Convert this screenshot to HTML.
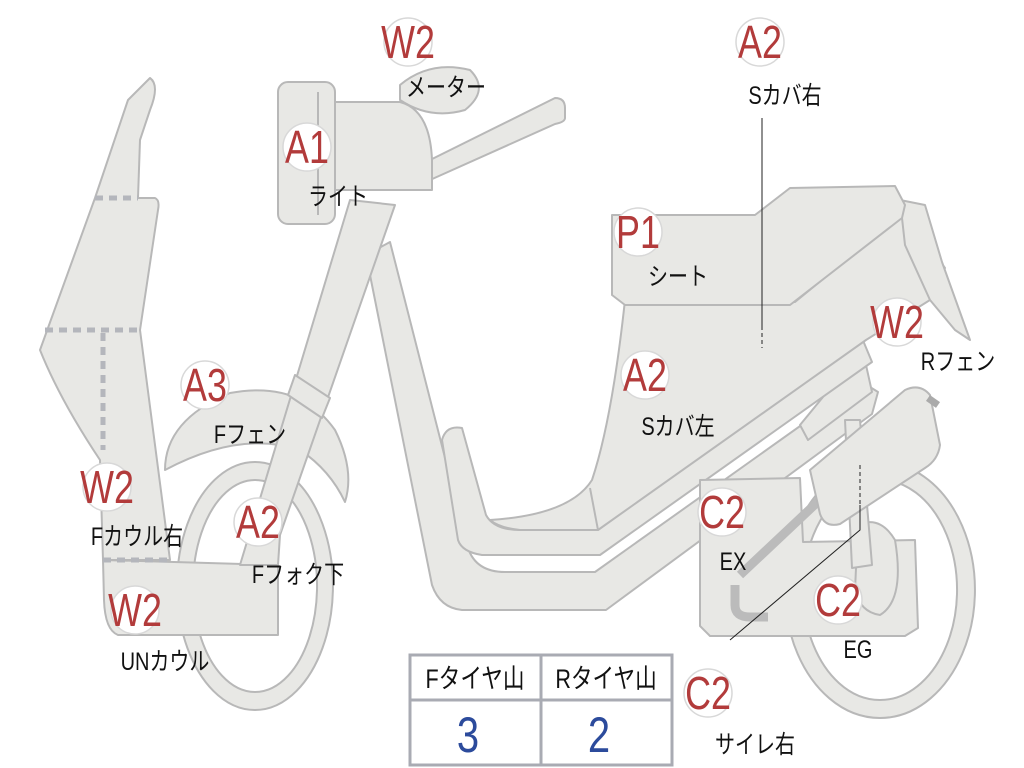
<!DOCTYPE html>
<html><head><meta charset="utf-8"><style>
html,body{margin:0;padding:0;background:#fff;width:1024px;height:768px;overflow:hidden}
svg{display:block}
.p{fill:#e8e8e5;stroke:#b8b8b8;stroke-width:2;stroke-linejoin:round}
.d{stroke:#b4b6bc;stroke-width:5;stroke-dasharray:8 6;fill:none}
.c{fill:#fff;stroke:#d8d8d8;stroke-width:1.5}
.r{fill:#b23b3b;font-family:"Liberation Sans",sans-serif;font-size:46px;text-anchor:middle}
.k{fill:#111;font-family:"Liberation Sans","Noto Sans CJK JP",sans-serif;font-size:25px;text-anchor:middle}
</style></head><body>
<svg width="1024" height="768" viewBox="0 0 1024 768" xmlns="http://www.w3.org/2000/svg">
<path class="p" fill-rule="evenodd" d="M880 462 a95 128 0 1 1 -0.1 0 Z M880 480 a77 110 0 1 0 0.1 0 Z"/>
<path class="p" fill-rule="evenodd" d="M255 462 a78 124 0 1 1 -0.1 0 Z M255 480 a62 106 0 1 0 0.1 0 Z"/>
<path class="p" d="M366 255 L390 242 L468 548 Q476 572 505 572 L595 572 L862 382 L878 392 L872 414 L606 610 L462 610 Q440 608 432 585 Z"/>
<path class="p" d="M855 358 L866 365 L872 392 L808 440 L800 425 Z"/>
<path class="p" d="M442 440 Q446 425 462 428 L486 515 Q494 530 520 530 L598 530 L862 338 L872 362 L600 555 L482 555 Q462 552 458 540 Z"/>
<path class="p" d="M625 300 L795 302 L905 212 L945 268 L930 300 L866 340 L598 530 L520 530 Q500 528 490 520 Q570 515 592 480 Q612 420 625 300 Z"/>
<path d="M590 488 L598 530" stroke="#b8b8b8" stroke-width="2"/>
<path class="p" d="M900 200 L925 205 L942 262 L970 340 L955 330 L930 300 L905 245 Z"/>
<path class="p" d="M612 215 L755 215 L790 188 L895 186 L905 205 L902 218 L790 305 L625 305 L612 295 Z"/>
<path class="p" d="M700 480 L800 478 L803 542 L915 540 L918 628 L905 636 L710 636 L700 626 Z"/>
<path class="p" d="M858 525 Q880 515 895 540 Q905 600 880 615 Q860 612 855 590 Z"/>
<path class="p" d="M845 420 L860 420 L872 565 L852 568 Z"/>
<path d="M735 585 L735 605 Q735 617 750 617 L768 617" stroke="#bbb" stroke-width="9" fill="none"/>
<path d="M740 575 L825 495" stroke="#bbb" stroke-width="9"/>
<path class="p" d="M810 470 L905 390 Q920 383 930 395 L940 445 Q938 460 925 468 L840 524 Q825 528 820 514 Z"/>
<path d="M928 398 L938 405" stroke="#aaa" stroke-width="7"/>
<path class="p" d="M150 78 Q160 85 150 110 L140 140 L138 198 L155 198 Q160 200 158 210 L140 330 L170 560 L103 560 L100 460 Q60 400 40 350 L95 198 L128 100 Z"/>
<path class="p" d="M103 560 L278 565 L278 635 L118 635 Q105 630 104 600 Z"/>
<path class="d" d="M95 198 H138 M45 330 H138 M103 333 V450 M103 560 H170"/>
<path class="p" d="M165 470 Q165 420 230 393 Q300 380 335 430 Q355 470 345 502 Q330 470 300 450 Q240 430 165 470 Z"/>
<path class="p" d="M350 200 L395 205 L280 535 L278 565 L240 565 Z"/>
<path class="p" d="M295 375 L330 398 L322 418 L288 395 Z"/>
<path class="p" d="M420 165 L555 98 Q565 98 565 108 L565 118 Q565 122 555 124 L430 180 Z"/>
<path class="p" d="M400 85 Q430 60 470 70 Q490 90 465 110 Q430 120 400 100 Z"/>
<path class="p" d="M315 102 L400 102 Q430 110 432 160 L432 190 L335 190 L315 190 Z"/>
<rect class="p" x="278" y="82" width="57" height="142" rx="10"/>
<line x1="318" y1="92" x2="318" y2="215" stroke="#b8b8b8" stroke-width="2"/>
<path d="M762 118 V330" stroke="#222" stroke-width="1"/>
<path d="M762 333 V348 M860 465 V505" stroke="#222" stroke-width="1" stroke-dasharray="4 3"/>
<path d="M730 640 L860 530 V505" stroke="#222" stroke-width="1" fill="none"/>
<rect x="410" y="655" width="262" height="110" fill="#fff" stroke="#a9abb3" stroke-width="3"/>
<line x1="410" y1="700" x2="672" y2="700" stroke="#a9abb3" stroke-width="3"/>
<line x1="541" y1="655" x2="541" y2="765" stroke="#a9abb3" stroke-width="3"/>
<text class="k" transform="translate(475,688) scale(0.8,1)" style="font-size:27px">Fタイヤ山</text>
<text class="k" transform="translate(606,688) scale(0.8,1)" style="font-size:27px">Rタイヤ山</text>
<text transform="translate(468,752) scale(0.8,1)" fill="#2c4b9c" font-family="Liberation Sans,sans-serif" font-size="50" text-anchor="middle">3</text>
<text transform="translate(599,752) scale(0.8,1)" fill="#2c4b9c" font-family="Liberation Sans,sans-serif" font-size="50" text-anchor="middle">2</text>
<g>
<circle class="c" cx="408" cy="42" r="24"/><text class="r" transform="translate(408,58) scale(0.78,1)">W2</text>
<circle class="c" cx="760" cy="42" r="24"/><text class="r" transform="translate(760,58) scale(0.78,1)">A2</text>
<circle class="c" cx="307" cy="147" r="24"/><text class="r" transform="translate(307,163) scale(0.78,1)">A1</text>
<circle class="c" cx="638" cy="232" r="24"/><text class="r" transform="translate(638,248) scale(0.78,1)">P1</text>
<circle class="c" cx="897" cy="322" r="24"/><text class="r" transform="translate(897,338) scale(0.78,1)">W2</text>
<circle class="c" cx="205" cy="385" r="24"/><text class="r" transform="translate(205,401) scale(0.78,1)">A3</text>
<circle class="c" cx="645" cy="375" r="24"/><text class="r" transform="translate(645,391) scale(0.78,1)">A2</text>
<circle class="c" cx="107" cy="487" r="24"/><text class="r" transform="translate(107,503) scale(0.78,1)">W2</text>
<circle class="c" cx="258" cy="522" r="24"/><text class="r" transform="translate(258,538) scale(0.78,1)">A2</text>
<circle class="c" cx="722" cy="512" r="24"/><text class="r" transform="translate(722,528) scale(0.78,1)">C2</text>
<circle class="c" cx="838" cy="600" r="24"/><text class="r" transform="translate(838,616) scale(0.78,1)">C2</text>
<circle class="c" cx="135" cy="610" r="24"/><text class="r" transform="translate(135,626) scale(0.78,1)">W2</text>
<circle class="c" cx="708" cy="693" r="24"/><text class="r" transform="translate(708,709) scale(0.78,1)">C2</text>
</g>
<g>
<text class="k" transform="translate(446,96) scale(0.8,1)">メーター</text>
<text class="k" transform="translate(785,104) scale(0.8,1)">Sカバ右</text>
<text class="k" transform="translate(338,205) scale(0.8,1)">ライト</text>
<text class="k" transform="translate(678,285) scale(0.8,1)">シート</text>
<text class="k" transform="translate(958,370) scale(0.8,1)">Rフェン</text>
<text class="k" transform="translate(250,443) scale(0.8,1)">Fフェン</text>
<text class="k" transform="translate(678,435) scale(0.8,1)">Sカバ左</text>
<text class="k" transform="translate(137,545) scale(0.8,1)">Fカウル右</text>
<text class="k" transform="translate(298,583) scale(0.8,1)">Fフォク下</text>
<text class="k" transform="translate(733,570) scale(0.8,1)">EX</text>
<text class="k" transform="translate(858,658) scale(0.8,1)">EG</text>
<text class="k" transform="translate(165,670) scale(0.8,1)">UNカウル</text>
<text class="k" transform="translate(755,753) scale(0.8,1)">サイレ右</text>
</g>
</svg>
</body></html>
